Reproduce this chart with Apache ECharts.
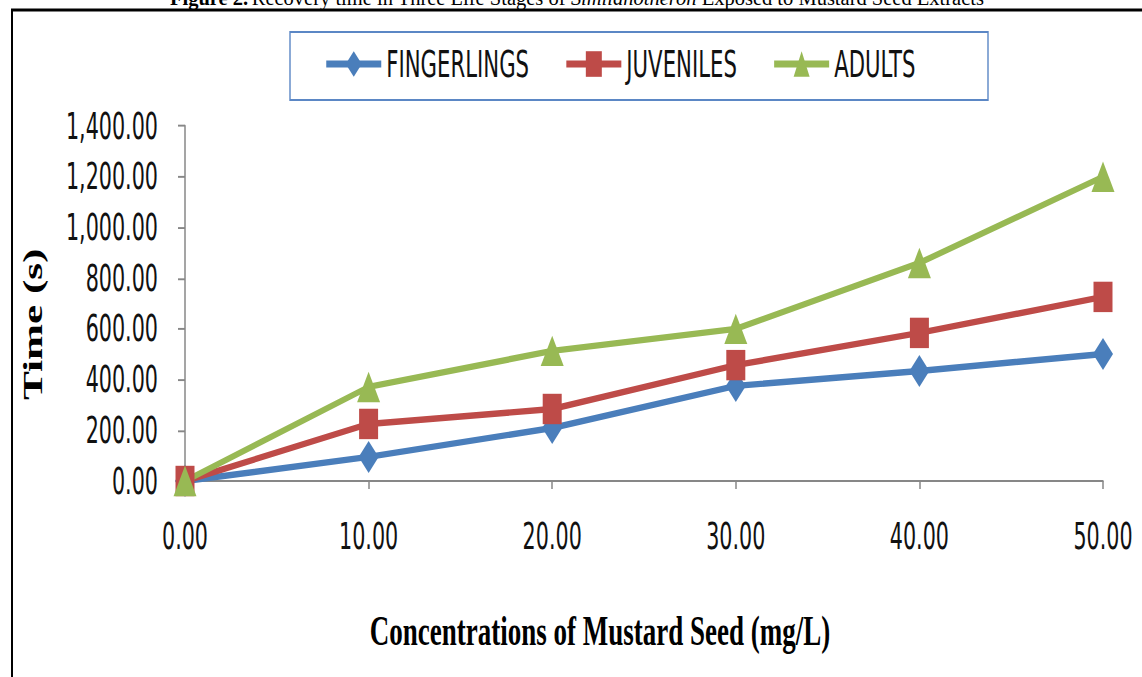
<!DOCTYPE html>
<html>
<head>
<meta charset="utf-8">
<script src="https://cdn.jsdelivr.net/npm/echarts@6/dist/echarts.min.js"></script>
<style>
html,body{margin:0;padding:0;background:#fff;overflow:hidden;width:1142px;height:677px}
#chart{width:1142px;height:423px;transform:scaleY(1.60047);transform-origin:0 0}
</style>
</head>
<body>
<div id="chart"></div>
<script>
var categories = ['0.00', '10.00', '20.00', '30.00', '40.00', '50.00'];
var fingerlings = [0, 95, 209, 375, 434, 501];
var juveniles = [0, 225, 284, 457, 584, 726];
var adults = [0, 371, 513, 600, 860, 1200];
var seriesNames = ['FINGERLINGS', 'JUVENILES', 'ADULTS'];
var yTicks = {min: 0, max: 1400, interval: 200};

// the original picture is stretched vertically; the page reproduces that stretch
var S = 677 / 423;
var condensed = '"DejaVu Sans Condensed", "Liberation Sans Narrow", sans-serif';
var serif = '"Liberation Serif", "Times New Roman", serif';

var chart = echarts.init(document.getElementById('chart'), null, {renderer: 'svg'});
chart.setOption({
  backgroundColor: '#fff',
  animation: false,
  graphic: [
    {type: 'text', x: 577, y: 9 / S, scaleY: 1 / S, silent: true,
     style: {
       text: '{b|Figure 2.} {n|Recovery time in Three Life Stages of }{i|Similanotheron}{n| Exposed to Mustard Seed Extracts}',
       align: 'center', verticalAlign: 'bottom',
       rich: {
         b: {fontFamily: serif, fontWeight: 'bold', fontSize: 20.5, fill: '#000'},
         n: {fontFamily: serif, fontSize: 20.5, fill: '#000'},
         i: {fontFamily: serif, fontStyle: 'italic', fontSize: 20.5, fill: '#000'}
       }
     }},
    {type: 'rect', shape: {x: 12, y: 10 / S, width: 1300, height: 800}, style: {fill: 'none', stroke: '#000', lineWidth: 2}, silent: true, z: -1},
    {type: 'rect', shape: {x: 290, y: 32 / S, width: 698, height: 68 / S}, style: {fill: 'none', stroke: '#5b87c5', lineWidth: 1.4}, silent: true}
  ],
  legend: {
    data: seriesNames,
    left: 319,
    top: 23,
    itemWidth: 55,
    itemHeight: 20,
    itemGap: 35,
    lineStyle: {width: 4.5},
    textStyle: {fontFamily: condensed, fontSize: 23.6, color: '#111'}
  },
  grid: {left: 185, right: 39, top: 126 / S, bottom: 196 / S},
  xAxis: {
    type: 'category',
    data: categories,
    boundaryGap: false,
    axisLine: {lineStyle: {color: '#878787', width: 1.3}},
    axisTick: {show: true, length: 5, lineStyle: {color: '#878787', width: 1.5}},
    axisLabel: {fontFamily: condensed, fontSize: 23, color: '#111', margin: 23},
    name: 'Concentrations of Mustard Seed (mg/L)',
    nameLocation: 'middle',
    nameGap: 80,
    nameTextStyle: {fontFamily: serif, fontWeight: 'bold', fontSize: 27, color: '#000', padding: [0, 88, 0, 0]}
  },
  yAxis: {
    type: 'value',
    min: yTicks.min,
    max: yTicks.max,
    interval: yTicks.interval,
    splitLine: {show: false},
    axisLine: {show: true, lineStyle: {color: '#878787', width: 1.5}},
    axisTick: {show: true, length: 7, lineStyle: {color: '#878787', width: 1.2}},
    axisLabel: {
      fontFamily: condensed, fontSize: 23, color: '#111', margin: 27,
      formatter: function (v) { return v.toLocaleString('en-US', {minimumFractionDigits: 2, maximumFractionDigits: 2}); }
    },
    name: 'Time (s)',
    nameLocation: 'middle',
    nameRotate: 90,
    nameGap: 139,
    nameTextStyle: {fontFamily: serif, fontWeight: 'bold', fontSize: 27, color: '#000', padding: [0, 26, 0, 0]}
  },
  series: [
    {name: seriesNames[0], type: 'line', data: fingerlings, symbol: 'diamond', symbolSize: [20, 20],
     lineStyle: {color: '#4a7ebb', width: 4}, itemStyle: {color: '#4a7ebb'}},
    {name: seriesNames[1], type: 'line', data: juveniles, symbol: 'rect', symbolSize: [19, 19],
     lineStyle: {color: '#be4b48', width: 4}, itemStyle: {color: '#be4b48'}},
    {name: seriesNames[2], type: 'line', data: adults, symbol: 'triangle', symbolSize: [23, 19],
     lineStyle: {color: '#98b954', width: 4}, itemStyle: {color: '#98b954'}}
  ]
});
</script>
</body>
</html>
